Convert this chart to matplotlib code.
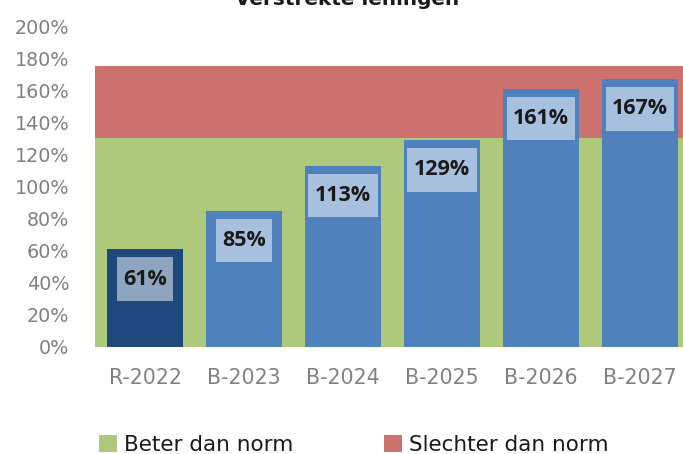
import matplotlib
matplotlib.use("Agg")
import matplotlib.pyplot as plt
from matplotlib.path import Path
import numpy as np

# data
jaren = ["R-2022", "B-2023", "B-2024", "B-2025", "B-2026", "B-2027"]
waarden = [61, 85, 113, 129, 161, 167]
norm_beter = [130, 130, 130, 130, 130, 130]
norm_slechter = [45, 45, 45, 45, 45, 45]

GREEN = "#AEC97C"
RED = "#CD716F"
BLUE = "#4F81BD"
NAVY = "#1F497D"
GRAY = "#808080"

plt.rcParams["font.family"] = "DejaVu Sans"


def hoge_box(x0, y0, width, height, mutation_size):
    # rechthoek met meer ruimte boven/onder dan links/rechts
    px = 0.3 * mutation_size
    py = 0.52 * mutation_size
    x0, y0 = x0 - px, y0 - py
    x1, y1 = x0 + width + 2 * px, y0 + height + 2 * py
    return Path([(x0, y0), (x1, y0), (x1, y1), (x0, y1), (x0, y0)],
                closed=True)


fig = plt.figure(figsize=(6.83, 4.54), dpi=100)
ax = fig.add_axes([0.1398, 0.2357, 0.8697, 0.7070])

x = np.arange(len(jaren))
b1 = ax.bar(x, norm_beter, width=1.0, color=GREEN, label="Beter dan norm", zorder=1)
b2 = ax.bar(x, norm_slechter, width=1.0, bottom=norm_beter, color=RED,
            label="Slechter dan norm", zorder=1)

kleuren = [NAVY] + [BLUE] * (len(waarden) - 1)
ax.bar(x, waarden, width=0.77, color=kleuren, zorder=2)

for xi, w in zip(x, waarden):
    ax.annotate(f"{w}%", xy=(xi, w), xytext=(0, -30), textcoords="offset pixels",
                ha="center", va="center", fontsize=15.5, fontweight="bold",
                family="Open Sans", color="#1a1a1a", zorder=3,
                bbox=dict(boxstyle=hoge_box, fc="white", ec="none", alpha=0.5))

ax.set_xlim(-0.5, len(jaren) - 0.5)
ax.set_ylim(0, 200)
ax.set_yticks(np.arange(0, 201, 20))
ax.set_yticklabels([f"{v}%" for v in range(0, 201, 20)], fontsize=13.8, color=GRAY)
ax.set_xticks(x)
ax.set_xticklabels(jaren, fontsize=14.8, color=GRAY)
ax.tick_params(axis="y", length=0, pad=19)
ax.tick_params(axis="x", length=0, pad=15)
for s in ax.spines.values():
    s.set_visible(False)

fig.text(0.5088, 0.989, "Verstrekte leningen", ha="center", va="baseline",
         fontsize=14.4, fontweight="bold", color="#1a1a1a")

fig.legend(handles=[b1, b2], loc="center", bbox_to_anchor=(0.518, 0.02),
           ncol=2, frameon=False, fontsize=15.5, handlelength=0.84,
           handleheight=0.84, handletextpad=0.33, columnspacing=4.2,
           labelcolor="#1a1a1a")

fig.savefig("out.png", dpi=100)
